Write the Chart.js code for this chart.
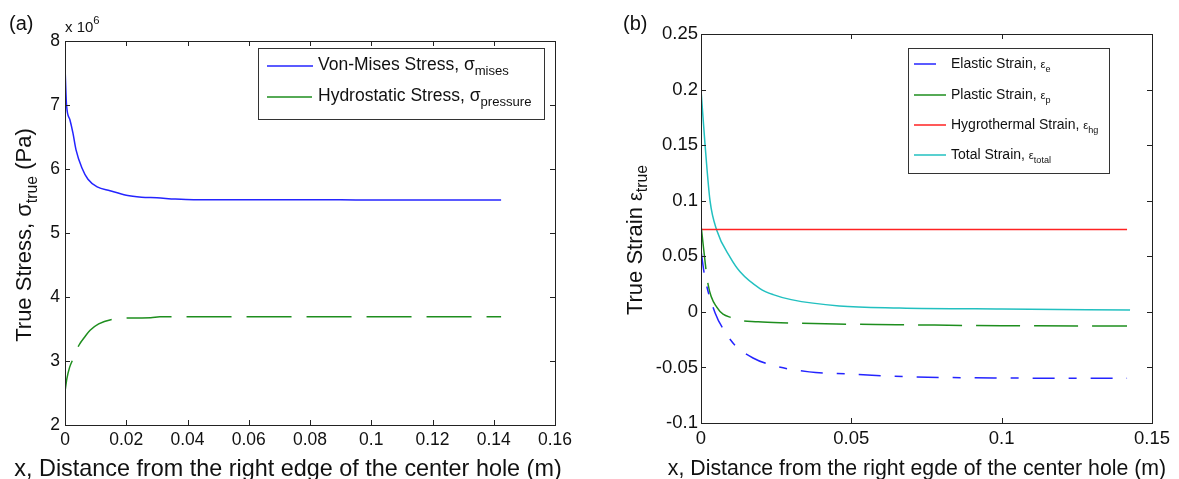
<!DOCTYPE html>
<html>
<head>
<meta charset="utf-8">
<script src="https://cdn.jsdelivr.net/npm/chart.js@4.4.0/dist/chart.umd.min.js"></script>
<style>
html, body { margin: 0; padding: 0; background: #fff; }
#wrap { position: relative; width: 1179px; height: 479px; overflow: hidden; }
#chart-a { position: absolute; left: 0; top: 0; }
#chart-b { position: absolute; left: 590px; top: 0; }
</style>
</head>
<body>
<div id="wrap">
  <canvas id="chart-a" width="590" height="479"></canvas>
  <canvas id="chart-b" width="589" height="479"></canvas>
</div>
<script>
// (a) true stress, y values in units of 1e6 Pa
let xMises = [0, 0.0005, 0.0016, 0.0026, 0.0036, 0.0055, 0.0075, 0.0105, 0.0147, 0.020, 0.025, 0.030, 0.036, 0.042, 0.060, 0.090, 0.100, 0.1424];
let yMises = [7.60, 7.00, 6.77, 6.56, 6.30, 6.02, 5.84, 5.72, 5.66, 5.59, 5.56, 5.55, 5.53, 5.52, 5.52, 5.52, 5.515, 5.515];
let xPressure = [0, 0.0006, 0.0015, 0.0027, 0.0046, 0.0065, 0.0082, 0.011, 0.0154, 0.020, 0.028, 0.031, 0.1424];
let yPressure = [2.52, 2.72, 2.90, 3.04, 3.25, 3.38, 3.48, 3.58, 3.65, 3.67, 3.675, 3.69, 3.69];
let xTicksA = [0, 0.02, 0.04, 0.06, 0.08, 0.1, 0.12, 0.14, 0.16];
let yTicksA = [2, 3, 4, 5, 6, 7, 8];

// (b) true strain
let xElastic = [0, 0.0013, 0.0047, 0.008, 0.0113, 0.0173, 0.0236, 0.036, 0.050, 0.062, 0.080, 0.100, 0.1417];
let yElastic = [0.055, 0.031, -0.001, -0.018, -0.030, -0.0415, -0.048, -0.054, -0.056, -0.0577, -0.059, -0.0595, -0.0598];
let xPlastic = [0, 0.0024, 0.0053, 0.0103, 0.019, 0.0296, 0.045, 0.065, 0.100, 0.1417];
let yPlastic = [0.078, 0.024, 0.004, -0.0055, -0.009, -0.010, -0.011, -0.0115, -0.0125, -0.0127];
let xHygro = [0, 0.1417];
let yHygro = [0.074, 0.074];
let xTotal = [0, 0.0013, 0.003, 0.0053, 0.0097, 0.013, 0.0196, 0.024, 0.030, 0.046, 0.066, 0.100, 0.1427];
let yTotal = [0.200, 0.152, 0.100, 0.073, 0.049, 0.036, 0.021, 0.0155, 0.011, 0.0053, 0.0035, 0.0025, 0.0017];
let xTicksB = [0, 0.05, 0.1, 0.15];
let yTicksB = [-0.1, -0.05, 0, 0.05, 0.1, 0.15, 0.2, 0.25];

const FONT = '"Liberation Sans", Arial, sans-serif';
const BLUE = '#2424ff';
const GREEN = '#1e8e1e';
const RED = '#ff2222';
const CYAN = '#22c0c0';

function pts(xs, ys) {
    return xs.map((x, i) => ({ x: x, y: ys[i] }));
}

function fmt(v) {
    return String(parseFloat(v.toFixed(4)));
}

// text made of pieces, each piece: [text, scale, baseline shift in px]
function richWidth(ctx, parts, size) {
    let w = 0;
    parts.forEach(p => {
        ctx.font = (size * (p[1] || 1)) + 'px ' + FONT;
        w += ctx.measureText(p[0]).width;
    });
    return w;
}

function drawRich(ctx, parts, x, y, size, align) {
    let w = richWidth(ctx, parts, size);
    let cx = align === 'center' ? x - w / 2 : x;
    ctx.textAlign = 'left';
    ctx.textBaseline = 'alphabetic';
    parts.forEach(p => {
        ctx.font = (size * (p[1] || 1)) + 'px ' + FONT;
        ctx.fillText(p[0], cx, y + (p[2] || 0));
        cx += ctx.measureText(p[0]).width;
    });
}

function frameAndTicks(chart, len) {
    let ctx = chart.ctx, a = chart.chartArea;
    let xs = chart.scales.x, ys = chart.scales.y;
    ctx.save();
    ctx.strokeStyle = '#222';
    ctx.lineWidth = 1;
    ctx.strokeRect(Math.round(a.left) + 0.5, Math.round(a.top) + 0.5, Math.round(a.right - a.left), Math.round(a.bottom - a.top));
    ctx.beginPath();
    xs.ticks.forEach(t => {
        let px = Math.round(xs.getPixelForValue(t.value)) + 0.5;
        ctx.moveTo(px, a.bottom); ctx.lineTo(px, a.bottom - len);
        ctx.moveTo(px, a.top); ctx.lineTo(px, a.top + len);
    });
    ys.ticks.forEach(t => {
        let py = Math.round(ys.getPixelForValue(t.value)) + 0.5;
        ctx.moveTo(a.left, py); ctx.lineTo(a.left + len, py);
        ctx.moveTo(a.right, py); ctx.lineTo(a.right - len, py);
    });
    ctx.stroke();
    ctx.restore();
}

function drawLegend(ctx, box, rows, lx0, lx1, tx, size) {
    ctx.save();
    ctx.fillStyle = '#fff';
    ctx.fillRect(box[0], box[1], box[2] - box[0], box[3] - box[1]);
    ctx.strokeStyle = '#333';
    ctx.lineWidth = 1;
    ctx.strokeRect(box[0] + 0.5, box[1] + 0.5, box[2] - box[0], box[3] - box[1]);
    rows.forEach(r => {
        ctx.strokeStyle = r.color;
        ctx.lineWidth = 1.5;
        ctx.setLineDash(r.dash);
        ctx.beginPath();
        ctx.moveTo(lx0, r.y);
        ctx.lineTo(lx1, r.y);
        ctx.stroke();
        ctx.setLineDash([]);
        ctx.fillStyle = '#111';
        drawRich(ctx, r.text, tx, r.y + 4, size, 'left');
    });
    ctx.restore();
}

function fixedScale(size) {
    return function (scale) {
        if (scale.isHorizontal()) scale.height = size;
        else scale.width = size;
    };
}

let decorA = {
    id: 'decorA',
    afterDraw(chart) {
        let ctx = chart.ctx;
        frameAndTicks(chart, 5);
        drawLegend(ctx, [258, 48, 544, 119], [
            { color: BLUE, dash: [], y: 66, text: [['Von-Mises Stress, σ'], ['mises', 0.75, 5]] },
            { color: GREEN, dash: [45, 15], y: 97, text: [['Hydrostatic Stress, σ'], ['pressure', 0.75, 5]] }
        ], 267, 313, 318, 17.5);
        ctx.save();
        ctx.fillStyle = '#111';
        drawRich(ctx, [['(a)']], 9, 30, 20, 'left');
        drawRich(ctx, [['x 10', 1], ['6', 0.75, -8]], 65, 32, 15, 'left');
        drawRich(ctx, [['x, Distance from the right edge of the center hole (m)']], 288, 476, 23.4, 'center');
        ctx.translate(31, 235);
        ctx.rotate(-Math.PI / 2);
        drawRich(ctx, [['True Stress, σ'], ['true', 0.72, 6], [' (Pa)']], 0, 0, 22, 'center');
        ctx.restore();
    }
};

let decorB = {
    id: 'decorB',
    afterDraw(chart) {
        let ctx = chart.ctx;
        frameAndTicks(chart, 5);
        drawLegend(ctx, [318, 48, 519, 173], [
            { color: BLUE, dash: [22, 14, 8, 14], y: 64, text: [['Elastic Strain, '], ['ε', 0.8], ['e', 0.65, 4]] },
            { color: GREEN, dash: [44, 14], y: 95, text: [['Plastic Strain, '], ['ε', 0.8], ['p', 0.65, 4]] },
            { color: RED, dash: [], y: 125, text: [['Hygrothermal Strain, '], ['ε', 0.8], ['hg', 0.65, 4]] },
            { color: CYAN, dash: [], y: 155, text: [['Total Strain, '], ['ε', 0.8], ['total', 0.65, 4]] }
        ], 324, 356, 361, 14);
        ctx.save();
        ctx.fillStyle = '#111';
        drawRich(ctx, [['(b)']], 33, 30, 20, 'left');
        drawRich(ctx, [['x, Distance from the right egde of the center hole (m)']], 327, 475, 21.3, 'center');
        ctx.translate(52, 240);
        ctx.rotate(-Math.PI / 2);
        drawRich(ctx, [['True Strain '], ['ε', 0.9], ['true', 0.72, 5]], 0, 0, 22, 'center');
        ctx.restore();
    }
};

function lineSet(label, data, color, dash, offset) {
    return {
        label: label,
        data: data,
        borderColor: color,
        borderWidth: 1.5,
        borderDash: dash,
        borderDashOffset: offset || 0,
        pointRadius: 0,
        fill: false,
        cubicInterpolationMode: 'monotone'
    };
}

function axis(min, max, ticks, size, font, pad) {
    return {
        type: 'linear',
        min: min,
        max: max,
        afterFit: fixedScale(size),
        afterBuildTicks: scale => { scale.ticks = ticks.map(v => ({ value: v })); },
        grid: { display: false, drawTicks: false, tickLength: 0 },
        border: { display: false },
        ticks: {
            color: '#111',
            padding: pad,
            maxRotation: 0,
            autoSkip: false,
            font: { family: FONT, size: font },
            callback: v => fmt(v)
        }
    };
}

let chartA = new Chart(document.getElementById('chart-a'), {
    type: 'line',
    data: {
        datasets: [
            lineSet('Von-Mises Stress', pts(xMises, yMises), BLUE, []),
            lineSet('Hydrostatic Stress', pts(xPressure, yPressure), GREEN, [45, 15], 13)
        ]
    },
    options: {
        responsive: false,
        animation: false,
        devicePixelRatio: 1,
        layout: { padding: { left: 0, top: 41, right: 35, bottom: 0 } },
        plugins: { legend: { display: false }, tooltip: { enabled: false } },
        scales: {
            x: axis(0, 0.16, xTicksA, 54, 17.5, 5),
            y: axis(2, 8, yTicksA, 65, 17.5, 5)
        }
    },
    plugins: [decorA]
});

let chartB = new Chart(document.getElementById('chart-b'), {
    type: 'line',
    data: {
        datasets: [
            lineSet('Elastic Strain', pts(xElastic, yElastic), BLUE, [22, 14, 8, 14]),
            lineSet('Plastic Strain', pts(xPlastic, yPlastic), GREEN, [44, 14]),
            lineSet('Hygrothermal Strain', pts(xHygro, yHygro), RED, []),
            lineSet('Total Strain', pts(xTotal, yTotal), CYAN, [])
        ]
    },
    options: {
        responsive: false,
        animation: false,
        devicePixelRatio: 1,
        layout: { padding: { left: 0, top: 34, right: 27, bottom: 0 } },
        plugins: { legend: { display: false }, tooltip: { enabled: false } },
        scales: {
            x: axis(0, 0.15, xTicksB, 56, 18.5, 5),
            y: axis(-0.1, 0.25, yTicksB, 111, 18.5, 3)
        }
    },
    plugins: [decorB]
});
</script>
</body>
</html>
